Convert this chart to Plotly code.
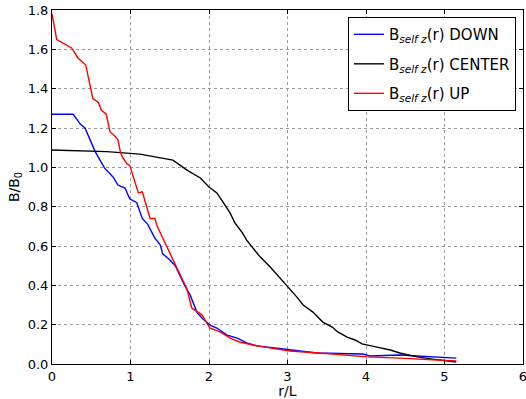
import plotly.graph_objects as go

# DOWN series
down_x = [0, 0.27, 0.36, 0.42, 0.55, 0.67, 0.78, 0.84, 0.93, 0.99, 1.08, 1.15, 1.22, 1.31, 1.38, 1.41,
          1.5, 1.57, 1.69, 1.76, 1.85, 1.92, 2.01, 2.1, 2.23, 2.36, 2.48, 2.61, 2.95, 3.37, 3.96, 4.05, 4.43, 5.15]
down_y = [1.27, 1.27, 1.22, 1.2, 1.08, 0.996, 0.95, 0.91, 0.895, 0.84, 0.82, 0.74, 0.71, 0.64, 0.605, 0.56,
          0.53, 0.5, 0.40, 0.35, 0.26, 0.23, 0.198, 0.183, 0.147, 0.132, 0.107, 0.092, 0.076, 0.056, 0.051, 0.041, 0.046, 0.03]

# CENTER series
center_x = [0, 0.7, 1.12, 1.54, 1.72, 1.82, 1.89, 2.0, 2.1, 2.16, 2.27, 2.33, 2.42, 2.48, 2.56, 2.65, 2.78,
            2.9, 3.01, 3.12, 3.2, 3.32, 3.45, 3.57, 3.64, 3.76, 3.86, 3.95, 4.14, 4.31, 4.43, 4.65, 4.85, 5.15]
center_y = [1.088, 1.08, 1.067, 1.037, 0.986, 0.96, 0.946, 0.9, 0.87, 0.834, 0.767, 0.717, 0.67, 0.63, 0.59,
            0.545, 0.493, 0.44, 0.39, 0.34, 0.30, 0.265, 0.213, 0.188, 0.163, 0.137, 0.122, 0.102, 0.086,
            0.071, 0.056, 0.036, 0.025, 0.01]

# UP series
up_x = [0, 0.06, 0.25, 0.33, 0.43, 0.52, 0.59, 0.63, 0.69, 0.74, 0.8, 0.84, 0.87, 0.9, 0.955, 0.99, 1.1,
        1.15, 1.25, 1.31, 1.34, 1.4, 1.46, 1.59, 1.72, 1.78, 1.91, 2.01, 2.14, 2.27, 2.39, 2.61, 3.03, 3.58,
        4.01, 4.43, 5.0, 5.15]
up_y = [1.78, 1.65, 1.607, 1.556, 1.52, 1.35, 1.33, 1.29, 1.27, 1.18, 1.16, 1.14, 1.08, 1.05, 1.017, 1.01,
        0.87, 0.875, 0.74, 0.74, 0.70, 0.65, 0.6, 0.49, 0.38, 0.285, 0.25, 0.183, 0.163, 0.132, 0.112, 0.092,
        0.066, 0.051, 0.036, 0.03, 0.02, 0.015]

names = ["B<sub><i>self z</i></sub>(r) DOWN", "B<sub><i>self z</i></sub>(r) CENTER", "B<sub><i>self z</i></sub>(r) UP"]
colors = ["#0000ff", "#000000", "#ff0000"]

x_ticks = [0, 1, 2, 3, 4, 5, 6]
y_ticks = [0.0, 0.2, 0.4, 0.6, 0.8, 1.0, 1.2, 1.4, 1.6, 1.8]

fig = go.Figure()
for i, (xs, ys) in enumerate([(down_x, down_y), (center_x, center_y), (up_x, up_y)]):
    fig.add_trace(go.Scatter(x=xs, y=ys, mode="lines", name=names[i], legendgroup=str(i),
                             line=dict(color=colors[i], width=1.4)))

font = "DejaVu Sans"
fig.update_layout(
    width=526, height=399,
    margin=dict(l=52, r=3, t=10, b=35, autoexpand=False),
    paper_bgcolor="white", plot_bgcolor="white",
    font=dict(family=font, size=13, color="black"),
    showlegend=True,
    legend=dict(x=0.985, y=0.98, xanchor="right", yanchor="top",
                bordercolor="black", borderwidth=1, bgcolor="white",
                font=dict(family=font, size=15), tracegroupgap=7, traceorder="grouped"),
    xaxis=dict(range=[0, 6], tickvals=x_ticks, ticktext=[str(v) for v in x_ticks],
               showgrid=True, gridcolor="#999999", griddash="dot", gridwidth=1,
               showline=True, linecolor="black", linewidth=1, mirror="ticks",
               ticks="inside", ticklen=4, tickcolor="black", zeroline=False,
               ticklabeloverflow="allow",
               title=dict(text="r/L", font=dict(size=14), standoff=2)),
    yaxis=dict(range=[0, 1.8], tickvals=y_ticks, ticktext=[f"{v:.1f}" for v in y_ticks],
               showgrid=True, gridcolor="#999999", griddash="dot", gridwidth=1,
               showline=True, linecolor="black", linewidth=1, mirror="ticks",
               ticks="inside", ticklen=4, tickcolor="black", zeroline=False,
               ticklabeloverflow="allow",
               title=dict(text="B/B<sub>0</sub>", font=dict(size=14), standoff=4)),
)

fig.write_html("out.html", config={"displayModeBar": False},
               post_script="document.body.style.margin='0';")
